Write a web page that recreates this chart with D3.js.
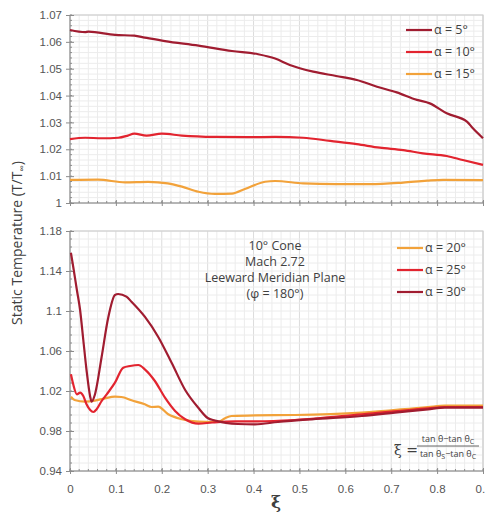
<!DOCTYPE html>
<html lang="en">
<meta charset="utf-8">
<style>
body { margin: 0; background: #fff; font-family: 'Open Sans', sans-serif; }
.grid line { stroke: #ececec; stroke-width: 1; }
.grid line.major { stroke: #dcdcdc; }
.frame { fill: none; stroke: #c8c8c8; }
.axis text { fill: #555; font-size: 11.5px; }
.axis path, .axis line { stroke: #8c8c8c; }
.legend text { fill: #404040; font-size: 12.5px; }
.note text { fill: #404040; font-size: 12.5px; }
</style>
<body>
<div id="chart"></div>
<script src="https://d3js.org/d3.v7.min.js"></script>
<script>
// ---- data ----
var xTicks = [0, 0.1, 0.2, 0.3, 0.4, 0.5, 0.6, 0.7, 0.8, 0.9];
var xTickLabels = ["0", "0.1", "0.2", "0.3", "0.4", "0.5", "0.6", "0.7", "0.8", "0.9"];
var topTicks = [1, 1.01, 1.02, 1.03, 1.04, 1.05, 1.06, 1.07];
var topTickLabels = ["1", "1.01", "1.02", "1.03", "1.04", "1.05", "1.06", "1.07"];
var botTicks = [0.94, 0.98, 1.02, 1.06, 1.1, 1.14, 1.18];
var botTickLabels = ["0.94", "0.98", "1.02", "1.06", "1.1", "1.14", "1.18"];

var topNames = ["\u03b1 = 5\u00b0", "\u03b1 = 10\u00b0", "\u03b1 = 15\u00b0"];
var botNames = ["\u03b1 = 20\u00b0", "\u03b1 = 25\u00b0", "\u03b1 = 30\u00b0"];

var a5 = [[0,1.0644],[0.033,1.0636],[0.04,1.0638],[0.098,1.0626],[0.14,1.0623],[0.163,1.0616],
  [0.207,1.0603],[0.28,1.0586],[0.353,1.0566],[0.41,1.0554],[0.447,1.0538],[0.479,1.0514],
  [0.53,1.0489],[0.58,1.0473],[0.625,1.0458],[0.669,1.0433],[0.712,1.0412],[0.756,1.0384],
  [0.784,1.0371],[0.821,1.0334],[0.865,1.0303],[0.878,1.0278],[0.9,1.0241]];
var a10 = [[0,1.0238],[0.033,1.0243],[0.07,1.0241],[0.105,1.0243],[0.126,1.0251],[0.14,1.0258],
  [0.167,1.0251],[0.2,1.0258],[0.244,1.0251],[0.316,1.0246],[0.388,1.0245],[0.447,1.0246],
  [0.508,1.0243],[0.567,1.0231],[0.625,1.0219],[0.675,1.0206],[0.726,1.0197],[0.769,1.0185],
  [0.821,1.0175],[0.856,1.016],[0.9,1.0142]];
var a15 = [[0,1.0086],[0.061,1.0087],[0.12,1.0077],[0.17,1.0079],[0.213,1.0073],[0.244,1.0061],
  [0.28,1.0042],[0.316,1.0034],[0.353,1.0035],[0.381,1.0052],[0.425,1.0079],[0.447,1.0082],
  [0.508,1.0073],[0.58,1.007],[0.654,1.007],[0.726,1.0076],[0.778,1.0083],[0.813,1.0086],[0.9,1.0085]];

var a20 = [[0.002,1.0143],[0.01,1.011],[0.033,1.0093],[0.054,1.0103],[0.076,1.0127],[0.098,1.0143],
  [0.112,1.014],[0.134,1.0107],[0.163,1.0067],[0.178,1.004],[0.192,1.0043],[0.214,0.9967],
  [0.244,0.9917],[0.28,0.9893],[0.31,0.989],[0.325,0.9895],[0.338,0.9928],[0.352,0.995],
  [0.403,0.9957],[0.49,0.996],[0.636,0.9983],[0.78,1.004],[0.817,1.0053],[0.9,1.0053]];
var a25 = [[0.002,1.0367],[0.007,1.0267],[0.015,1.0167],[0.022,1.0183],[0.029,1.015],[0.036,1.0067],
  [0.044,1.001],[0.051,0.999],[0.058,1.0017],[0.069,1.01],[0.08,1.0167],[0.098,1.0283],
  [0.116,1.0433],[0.131,1.045],[0.149,1.046],[0.163,1.0417],[0.185,1.03],[0.207,1.0133],
  [0.229,1.0],[0.251,0.9917],[0.28,0.9873],[0.31,0.9885],[0.36,0.9897],[0.41,0.9897],
  [0.49,0.991],[0.636,0.9967],[0.78,1.0027],[0.817,1.004],[0.9,1.004]];
var a30 = [[0.002,1.1583],[0.007,1.1443],[0.015,1.121],[0.022,1.101],[0.029,1.071],[0.036,1.041],
  [0.044,1.0143],[0.047,1.0093],[0.054,1.016],[0.069,1.0543],[0.083,1.0927],[0.098,1.116],
  [0.105,1.117],[0.123,1.1143],[0.134,1.1093],[0.163,1.0943],[0.192,1.0743],[0.222,1.0477],
  [0.251,1.021],[0.28,1.003],[0.3,0.993],[0.316,0.9905],[0.366,0.987],[0.403,0.9867],
  [0.453,0.989],[0.527,0.9917],[0.636,0.995],[0.708,0.9983],[0.78,1.0017],[0.817,1.0033],[0.9,1.0033]];

var darkRed = "#a01c30", red = "#e2242f", orange = "#f2a23a";

// ---- layout ----
var width = 485, height = 518;
var svg = d3.select("#chart").append("svg")
    .attr("width", width)
    .attr("height", height);

var x = d3.scaleLinear().domain([0, 0.9]).range([70, 483]);
var yTop = d3.scaleLinear().domain([1, 1.07]).range([203, 15]);
var yBot = d3.scaleLinear().domain([0.94, 1.18]).range([471, 231]);

function panel(y, yMinor, ticks, labels, series, colors, showXLabels) {
  var g = svg.append("g");
  var y0 = y.range()[0], y1 = y.range()[1];

  // grid
  var grid = g.append("g").attr("class", "grid");
  grid.selectAll("line.v").data(d3.range(0, 0.9001, 0.02)).enter().append("line")
      .attr("class", function(d) { return Math.abs(d * 10 - Math.round(d * 10)) < 1e-6 ? "v major" : "v"; })
      .attr("x1", function(d) { return x(d); }).attr("x2", function(d) { return x(d); })
      .attr("y1", y0).attr("y2", y1);
  grid.selectAll("line.h").data(yMinor).enter().append("line")
      .attr("class", "h")
      .attr("x1", x.range()[0]).attr("x2", x.range()[1])
      .attr("y1", function(d) { return y(d); }).attr("y2", function(d) { return y(d); });
  g.append("rect").attr("class", "frame")
      .attr("x", x.range()[0]).attr("y", y1)
      .attr("width", x.range()[1] - x.range()[0]).attr("height", y0 - y1);

  // axes
  var xa = g.append("g").attr("class", "axis").attr("transform", "translate(0," + y0 + ")")
      .call(d3.axisBottom(x).tickValues(xTicks).tickSize(5)
        .tickFormat(function(d, i) { return showXLabels ? xTickLabels[i] : ""; }));
  xa.selectAll("text").attr("dy", "1.2em");
  xa.selectAll(".tick line").attr("y1", -3).attr("y2", 3);
  xa.append("g").selectAll("line").data(d3.range(0, 0.9001, 0.02)).enter().append("line")
      .attr("x1", function(d) { return x(d); }).attr("x2", function(d) { return x(d); })
      .attr("y1", -2).attr("y2", 0).attr("stroke", "#8c8c8c");
  xa.select(".domain").attr("d", "M" + x.range()[0] + ",0H" + x.range()[1]);

  var ya = g.append("g").attr("class", "axis").attr("transform", "translate(" + x.range()[0] + ",0)")
      .call(d3.axisLeft(y).tickValues(ticks).tickSize(5)
        .tickFormat(function(d, i) { return labels[i]; }));
  ya.selectAll(".tick line").attr("x1", -4).attr("x2", 4);
  ya.append("g").selectAll("line").data(yMinor).enter().append("line")
      .attr("y1", function(d) { return y(d); }).attr("y2", function(d) { return y(d); })
      .attr("x1", 0).attr("x2", 2).attr("stroke", "#8c8c8c");
  ya.select(".domain").attr("d", "M0," + y0 + "V" + y1);

  // lines
  var line = d3.line().x(function(d) { return x(d[0]); }).y(function(d) { return y(d[1]); })
      .curve(d3.curveMonotoneX);
  g.selectAll("path.series").data(series).enter().append("path")
      .attr("class", "series")
      .attr("d", line)
      .attr("fill", "none")
      .attr("stroke", function(d, i) { return colors[i]; })
      .attr("stroke-width", 2.2);
  return g;
}

panel(yTop, d3.range(1, 1.0701, 0.002), topTicks, topTickLabels, [a15, a10, a5], [orange, red, darkRed], false);
panel(yBot, d3.range(0.94, 1.1801, 0.008), botTicks, botTickLabels, [a20, a25, a30], [orange, red, darkRed], true);

// legends
function legend(names, colors, lx, ly, dy) {
  var lg = svg.append("g").attr("class", "legend");
  names.forEach(function(n, i) {
    var yy = ly + i * dy;
    lg.append("line").attr("x1", lx).attr("x2", lx + 26).attr("y1", yy).attr("y2", yy)
      .attr("stroke", colors[i]).attr("stroke-width", 2.2);
    lg.append("text").attr("x", lx + 28).attr("y", yy).attr("dy", "0.35em").text(n);
  });
}
legend(topNames, [darkRed, red, orange], 406, 30, 22);
legend(botNames, [orange, red, darkRed], 397, 248, 22);

// annotation
var note = svg.append("g").attr("class", "note");
["10\u00b0 Cone", "Mach 2.72", "Leeward Meridian Plane", "(\u03c6 = 180\u00b0)"].forEach(function(t, i) {
  note.append("text").attr("x", 275).attr("y", 246 + i * 16).attr("dy", "0.35em")
    .attr("text-anchor", "middle").text(t);
});

// formula
var f = svg.append("g").attr("fill", "#404040");
f.append("text").attr("x", 394).attr("y", 450).attr("dy", "0.35em")
  .style("font-family", "'DejaVu Serif', serif").style("font-size", "14px").text("\u03be =");
var num = f.append("text").attr("x", 448).attr("y", 442).attr("text-anchor", "middle")
  .style("font-size", "9px");
num.append("tspan").text("tan \u03b8\u2212tan \u03b8");
num.append("tspan").attr("dy", 2).style("font-size", "7px").text("C");
f.append("line").attr("x1", 417).attr("x2", 479).attr("y1", 446).attr("y2", 446)
  .attr("stroke", "#404040").attr("stroke-width", 0.8);
var den = f.append("text").attr("x", 448).attr("y", 457).attr("text-anchor", "middle")
  .style("font-size", "9px");
den.append("tspan").text("tan \u03b8");
den.append("tspan").attr("dy", 2).style("font-size", "7px").text("S");
den.append("tspan").attr("dy", -2).text("\u2212tan \u03b8");
den.append("tspan").attr("dy", 2).style("font-size", "7px").text("C");

// axis titles
var yt = svg.append("text").attr("transform", "translate(22,243) rotate(-90)")
  .attr("text-anchor", "middle").attr("fill", "#404040").style("font-size", "14px");
yt.append("tspan").text("Static Temperature (T/T");
yt.append("tspan").attr("dy", 3).style("font-size", "9px").text("\u221e");
yt.append("tspan").attr("dy", -3).text(")");

svg.append("text").attr("x", 276).attr("y", 508).attr("text-anchor", "middle")
  .attr("fill", "#404040").style("font-size", "17px").style("font-weight", "bold")
  .style("font-family", "'DejaVu Serif', serif").text("\u03be");
</script>
</body>
</html>
